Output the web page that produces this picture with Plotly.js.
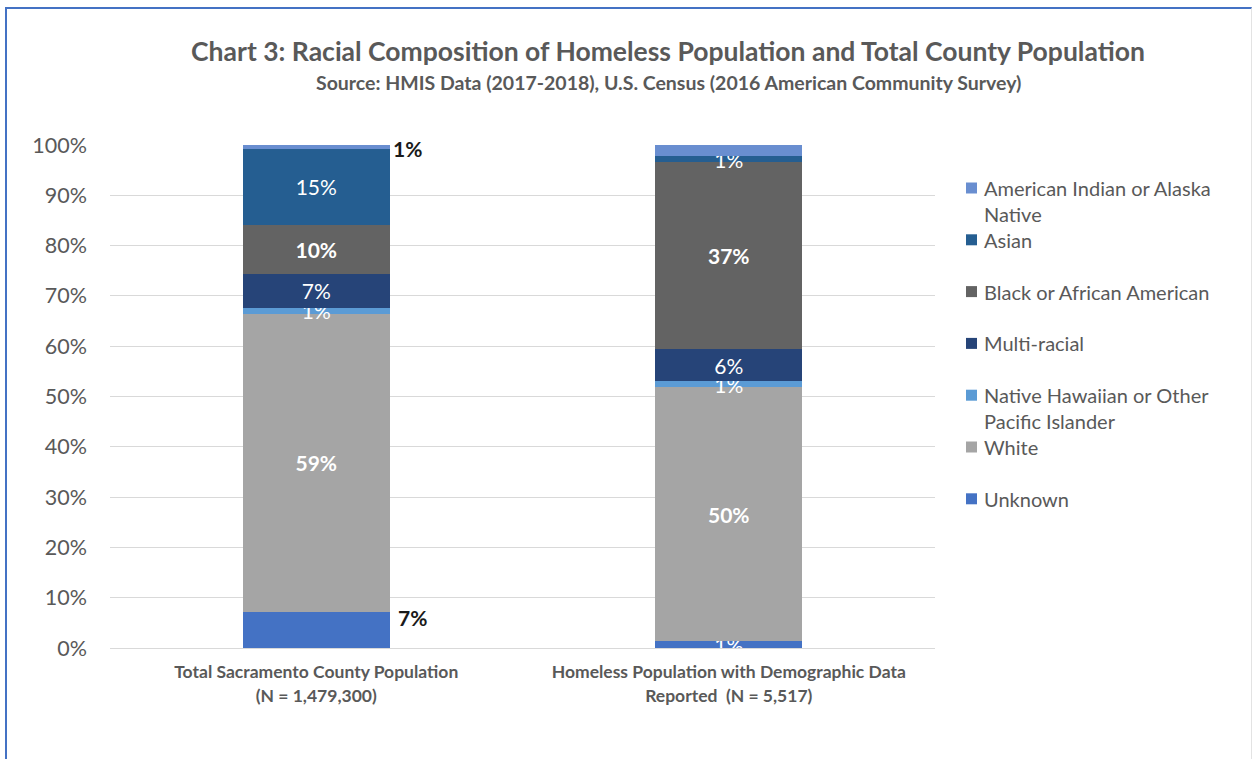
<!DOCTYPE html>
<html><head><meta charset="utf-8">
<script src="https://cdn.plot.ly/plotly-3.0.1.min.js"></script>
<style>
html,body{margin:0;padding:0;background:#fff;overflow:hidden;}
#chart{position:absolute;left:0;top:0;width:1253px;height:759px;}
#frame{position:absolute;left:5px;top:7px;width:1244px;height:760px;border-left:2px solid #4472c4;border-top:2px solid #4472c4;border-right:1px solid #e3e3e3;pointer-events:none;}
</style></head><body>
<div id="chart"></div><div id="frame"></div>
<script>
// ---- data ----
const categories = ["Total Sacramento County Population<br>(N = 1,479,300)",
                    "Homeless Population with Demographic Data<br>Reported  (N = 5,517)"];
const seriesNames = ["Unknown", "White", "Native Hawaiian or Other Pacific Islander", "Multi-racial",
                     "Black or African American", "Asian", "American Indian or Alaska Native"];
const unknown        = [7.1, 1.4];
const white          = [59.4, 50.4];
const nativeHawaiian = [1.1, 1.3];
const multiRacial    = [6.8, 6.3];
const black          = [9.7, 37.2];
const asian          = [15.2, 1.2];
const americanIndian = [0.7, 2.2];
// label placement per series and category: in = inside bar, out = beside bar, none
const unknownLabel        = ["out", "in"];
const whiteLabel          = ["in", "in"];
const nativeHawaiianLabel = ["in", "in"];
const multiRacialLabel    = ["in", "in"];
const blackLabel          = ["in", "in"];
const asianLabel          = ["in", "in"];
const americanIndianLabel = ["out", "none"];
const legendLines = {
  "American Indian or Alaska Native": ["American Indian or Alaska", "Native"],
  "Native Hawaiian or Other Pacific Islander": ["Native Hawaiian or Other", "Pacific Islander"]
};
const titleText = "Chart 3: Racial Composition of Homeless Population and Total County Population";
const subtitleText = "Source: HMIS Data (2017-2018), U.S. Census (2016 American Community Survey)";

// ---- style ----
const W = 1253, H = 759, M = {l: 110, r: 318, t: 145, b: 111};
const PW = W - M.l - M.r, PH = H - M.t - M.b;
const px2x = p => (p - M.l) / PW;
const py2y = p => (H - M.b - p) / PH;
const FONT = "Lato, 'Open Sans', sans-serif";
const GREY = "#595959";
const BAR_W = 0.356;

const seriesValues = [unknown, white, nativeHawaiian, multiRacial, black, asian, americanIndian];
const seriesLabels = [unknownLabel, whiteLabel, nativeHawaiianLabel, multiRacialLabel, blackLabel, asianLabel, americanIndianLabel];
const colors = ["#4472C4", "#A5A5A5", "#5B9BD5", "#264478", "#636363", "#255E91", "#698ED0"];
const boldLabel = [false, true, false, false, true, false, false];

const data = seriesNames.map((name, si) => ({
  type: "bar",
  name: name,
  x: categories,
  y: seriesValues[si],
  width: BAR_W,
  marker: {color: colors[si], line: {width: 0}},
  text: seriesValues[si].map((v, ci) => seriesLabels[si][ci] === "in" ? Math.round(v) + "%" : ""),
  textposition: "inside",
  insidetextanchor: "middle",
  textangle: 0,
  textfont: {family: FONT, size: 21, color: "#ffffff", weight: boldLabel[si] ? "bold" : "normal"},
  hovertemplate: name + ": %{y:.1f}%<extra></extra>",
  showlegend: false
}));

const annotations = [];
// labels placed beside the bar
seriesNames.forEach((name, si) => {
  seriesValues[si].forEach((v, ci) => {
    if (seriesLabels[si][ci] !== "out") return;
    let below = 0;
    for (let k = 0; k < si; k++) below += seriesValues[k][ci];
    const isTop = si === seriesNames.length - 1;
    annotations.push({
      x: ci + BAR_W / 2, y: below + v / 2, xref: "x", yref: "y",
      text: "<b>" + Math.round(v) + "%</b>", showarrow: false,
      xanchor: "left", yanchor: "middle",
      xshift: isTop ? 1 : 6, yshift: isTop ? -2 : 13,
      font: {family: FONT, size: 21, color: "#1a1a1a"}
    });
  });
});

// subtitle
annotations.push({x: 668 / W, y: py2y(82), xref: "paper", yref: "paper", showarrow: false,
  xanchor: "center", yanchor: "middle", text: "<b>" + subtitleText + "</b>",
  font: {family: FONT, size: 19.5, color: GREY}});
annotations[annotations.length - 1].x = px2x(668);

// custom legend (top to bottom: reverse of stack order)
const shapes = [];
const legendTop = 188, legendStep = 51.8, lineStep = 26;
const legendOrder = seriesNames.map((n, i) => i).reverse();
legendOrder.forEach((si, k) => {
  const cy = legendTop + k * legendStep;
  shapes.push({type: "rect", xref: "paper", yref: "paper",
    x0: px2x(966), x1: px2x(977), y0: py2y(cy + 5.5), y1: py2y(cy - 5.5),
    fillcolor: colors[si], line: {width: 0}});
  const lines = legendLines[seriesNames[si]] || [seriesNames[si]];
  lines.forEach((ln, li) => {
    annotations.push({x: px2x(982), y: py2y(cy + li * lineStep), xref: "paper", yref: "paper",
      text: ln, showarrow: false, xanchor: "left", yanchor: "middle",
      font: {family: FONT, size: 20, color: GREY}});
  });
});

const tickText = categories.map(c => c.split("<br>").map(l => "<span style='font-size:17.5px'>" + l + "</span>").join("<br>"));

const layout = {
  width: W, height: H,
  margin: M,
  paper_bgcolor: "#ffffff", plot_bgcolor: "#ffffff",
  barmode: "stack",
  showlegend: false,
  title: {
    text: "<b>" + titleText + "</b>",
    font: {family: FONT, size: 26.5, color: GREY},
    xref: "container", yref: "container", x: 668 / W, xanchor: "center",
    y: 1 - 52 / H, yanchor: "middle"
  },
  xaxis: {
    type: "category", range: [-0.5, 1.5],
    tickmode: "array", tickvals: categories, ticktext: tickText,
    tickfont: {family: FONT, size: 18.5, color: GREY, weight: "bold"},
    showgrid: false, zeroline: false, showline: false, ticks: "", fixedrange: true,
    ticklabelstandoff: 10
  },
  yaxis: {
    range: [0, 100], dtick: 10, ticksuffix: "%",
    tickfont: {family: FONT, size: 21.5, color: GREY},
    gridcolor: "#d9d9d9", gridwidth: 1,
    zeroline: true, zerolinecolor: "#d9d9d9", zerolinewidth: 1,
    showline: false, ticks: "", ticklabelstandoff: 22, fixedrange: true
  },
  uniformtext: {mode: "show", minsize: 21},
  annotations: annotations,
  shapes: shapes
};

Plotly.newPlot("chart", data, layout, {displayModeBar: false, staticPlot: true});
</script></body></html>
